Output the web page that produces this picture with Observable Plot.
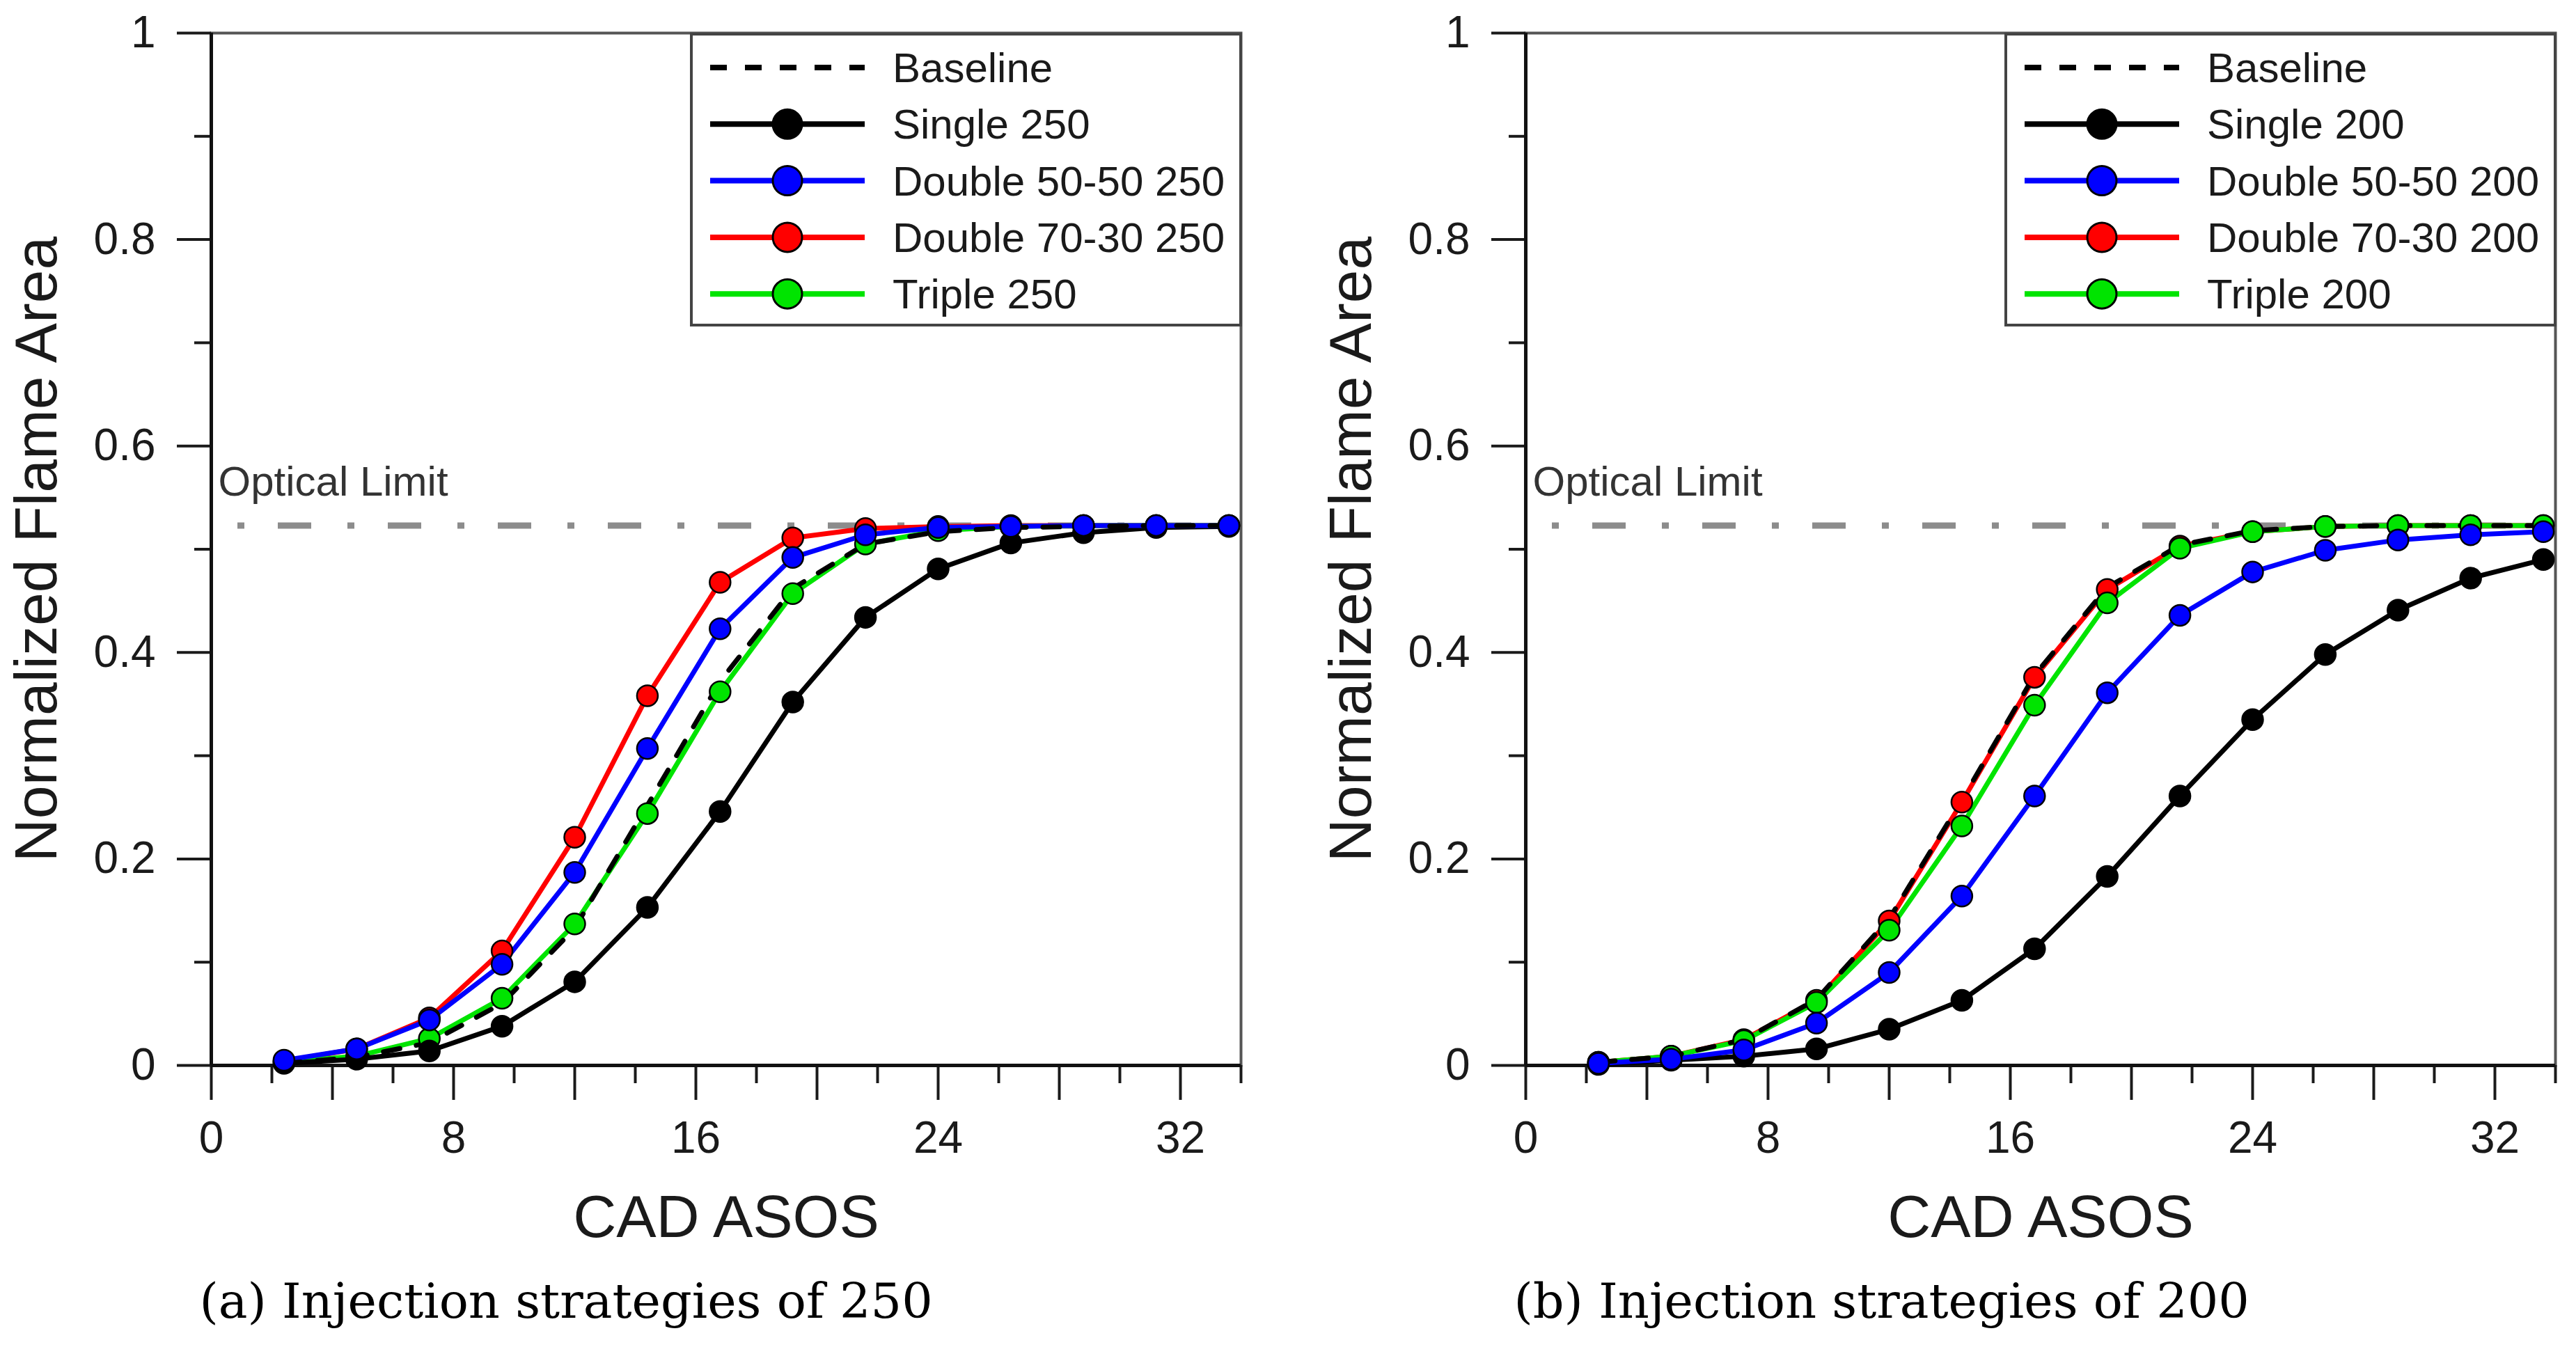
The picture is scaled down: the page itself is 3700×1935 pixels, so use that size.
<!DOCTYPE html>
<html>
<head>
<meta charset="utf-8">
<script src="https://cdn.jsdelivr.net/npm/d3@7"></script>
<script src="https://cdn.jsdelivr.net/npm/@observablehq/plot@0.6"></script>
<style>
  body { margin: 0; background: #fff; }
  #wrap { display: flex; width: 3700px; height: 1935px; background: #fff; }
</style>
</head>
<body>
<div id="wrap"></div>
<script>
// ---------- data ----------
const cad = [2.4, 4.8, 7.2, 9.6, 12.0, 14.4, 16.8, 19.2, 21.6, 24.0, 26.4, 28.8, 31.2, 33.6];

const names250 = ["Baseline", "Single 250", "Double 50-50 250", "Double 70-30 250", "Triple 250"];
const baseline250    = [0.002, 0.008, 0.022, 0.060, 0.133, 0.252, 0.372, 0.462, 0.505, 0.517, 0.521, 0.522, 0.523, 0.523];
const single250      = [0.002, 0.006, 0.014, 0.038, 0.081, 0.153, 0.246, 0.352, 0.434, 0.481, 0.506, 0.516, 0.521, 0.522];
const double5050_250 = [0.005, 0.016, 0.044, 0.098, 0.187, 0.307, 0.423, 0.492, 0.514, 0.521, 0.522, 0.523, 0.523, 0.523];
const double7030_250 = [0.004, 0.016, 0.046, 0.111, 0.221, 0.358, 0.468, 0.511, 0.520, 0.522, 0.523, 0.523, 0.523, 0.523];
const triple250      = [0.003, 0.009, 0.026, 0.065, 0.137, 0.244, 0.362, 0.457, 0.505, 0.518, 0.522, 0.523, 0.523, 0.523];

const names200 = ["Baseline", "Single 200", "Double 50-50 200", "Double 70-30 200", "Triple 200"];
const baseline200    = [0.003, 0.009, 0.025, 0.064, 0.142, 0.257, 0.378, 0.463, 0.504, 0.518, 0.522, 0.523, 0.523, 0.523];
const single200      = [0.001, 0.005, 0.009, 0.016, 0.035, 0.063, 0.113, 0.183, 0.261, 0.335, 0.398, 0.441, 0.472, 0.490];
const double5050_200 = [0.002, 0.006, 0.015, 0.041, 0.090, 0.164, 0.261, 0.361, 0.436, 0.478, 0.499, 0.509, 0.514, 0.517];
const double7030_200 = [0.003, 0.009, 0.025, 0.063, 0.140, 0.255, 0.376, 0.461, 0.503, 0.517, 0.522, 0.523, 0.523, 0.523];
const triple200      = [0.003, 0.009, 0.024, 0.061, 0.131, 0.232, 0.349, 0.448, 0.501, 0.517, 0.522, 0.523, 0.523, 0.523];

const seriesColors = ["#000000", "#000000", "#0000ff", "#ff0000", "#00e400"];
const opticalLimit = 0.523;

const xMajorTicks = [0, 4, 8, 12, 16, 20, 24, 28, 32];
const xMinorTicks = [2, 6, 10, 14, 18, 22, 26, 30, 34];
const xTickLabels = [0, 8, 16, 24, 32];
const yMajorTicks = [0, 0.2, 0.4, 0.6, 0.8, 1];
const yTickLabels = ["0", "0.2", "0.4", "0.6", "0.8", "1"];
const yMinorTicks = [0.1, 0.3, 0.5, 0.7, 0.9];

const xLabel = "CAD ASOS";
const yLabel = "Normalized Flame Area";
const opticalLabel = "Optical Limit";
const captions = ["(a) Injection strategies of 250", "(b) Injection strategies of 200"];

// ---------- drawing ----------
const SANS = "'Liberation Sans', Arial, Helvetica, sans-serif";
const W = 1850, H = 1935, MT = 47, PH = 1483, PW = 1479;
// draw order for markers/lines (bottom -> top)
const drawOrder = [3, 4, 1, 2];

function panel(names, series, caption, marginLeft) {
  const rows = [];
  drawOrder.forEach(i => series[i].forEach((v, j) => rows.push({series: names[i], x: cad[j], y: v})));
  const base = series[0].map((v, j) => ({series: names[0], x: cad[j], y: v}));

  const chart = Plot.plot({
    width: W,
    height: H,
    marginLeft,
    marginRight: W - marginLeft - PW,
    marginTop: MT,
    marginBottom: H - MT - PH,
    x: {domain: [0, 34]},
    y: {domain: [0, 1]},
    color: {domain: names, range: seriesColors},
    style: {fontFamily: SANS, fontSize: "64px", color: "#1a1a1a", background: "#fff"},
    marks: [
      Plot.frame({stroke: "#555", strokeWidth: 4}),
      Plot.axisX({ticks: xMajorTicks, tickSize: 50, tickPadding: 30, strokeWidth: 4,
                  tickFormat: d => xTickLabels.includes(d) ? String(d) : "", label: null}),
      Plot.axisX({ticks: xMinorTicks, tickSize: 26, strokeWidth: 4, tickFormat: () => "", label: null}),
      Plot.axisY({ticks: yMajorTicks, tickSize: 49, tickPadding: 31, strokeWidth: 4,
                  tickFormat: d => yTickLabels[yMajorTicks.indexOf(d)], label: null}),
      Plot.axisY({ticks: yMinorTicks, tickSize: 24, strokeWidth: 4, tickFormat: () => "", label: null}),
      Plot.ruleX([0], {stroke: "#111", strokeWidth: 5}),
      Plot.ruleY([0], {stroke: "#111", strokeWidth: 5}),
      Plot.ruleY([opticalLimit], {stroke: "#8c8c8c", strokeWidth: 9,
                  strokeDasharray: "48,52,10,48", strokeDashoffset: 62}),
      Plot.text([opticalLabel], {x: () => 0, y: () => opticalLimit, text: d => d, dx: 10, dy: -62,
                  textAnchor: "start", fontSize: 60, fill: "#333"}),
      Plot.line(rows, {x: "x", y: "y", z: "series", stroke: "series", strokeWidth: 7}),
      Plot.line(base, {x: "x", y: "y", stroke: "#000", strokeWidth: 7, strokeDasharray: "24,24"}),
      Plot.dot(rows, {x: "x", y: "y", r: 15, fill: "series", stroke: "#000", strokeWidth: 2.5}),
      Plot.text([yLabel], {frameAnchor: "left", text: d => d, rotate: -90, dx: -250,
                  textAnchor: "middle", fontSize: 86, fill: "#1a1a1a"}),
      Plot.text([xLabel], {frameAnchor: "bottom", text: d => d, dy: 246, fontSize: 86, fill: "#1a1a1a"}),
      Plot.text([caption], {frameAnchor: "bottom-left", text: d => d, dx: -17, dy: 362,
                  textAnchor: "start", fontSize: 70, fontFamily: "'DejaVu Serif', 'Liberation Serif', serif",
                  fill: "#000"})
    ]
  });

  // legend box (top-right of the frame)
  const svg = d3.select(chart);
  const g = svg.append("g").attr("text-anchor", "start");
  const bx0 = marginLeft + 690, bx1 = marginLeft + PW, by0 = MT + 2, by1 = 467;
  g.append("rect").attr("x", bx0).attr("y", by0).attr("width", bx1 - bx0).attr("height", by1 - by0)
    .attr("fill", "#fff").attr("stroke", "#444").attr("stroke-width", 4);
  names.forEach((name, i) => {
    const y = MT + 50 + i * 81.3;
    const line = g.append("line").attr("x1", bx0 + 27).attr("x2", bx0 + 249).attr("y1", y).attr("y2", y)
      .attr("stroke", seriesColors[i]).attr("stroke-width", 8);
    if (i === 0) line.attr("stroke-dasharray", "24,26");
    else g.append("circle").attr("cx", bx0 + 138).attr("cy", y).attr("r", 21)
      .attr("fill", seriesColors[i]).attr("stroke", "#000").attr("stroke-width", 3);
    g.append("text").attr("x", bx0 + 289).attr("y", y).attr("dy", "0.35em")
      .attr("text-anchor", "start")
      .attr("font-size", 60).attr("font-family", SANS).attr("fill", "#1a1a1a").text(name);
  });
  return chart;
}

const wrap = document.getElementById("wrap");
wrap.append(panel(names250, [baseline250, single250, double5050_250, double7030_250, triple250], captions[0], 303));
wrap.append(panel(names200, [baseline200, single200, double5050_200, double7030_200, triple200], captions[1], 341));
</script>
</body>
</html>
